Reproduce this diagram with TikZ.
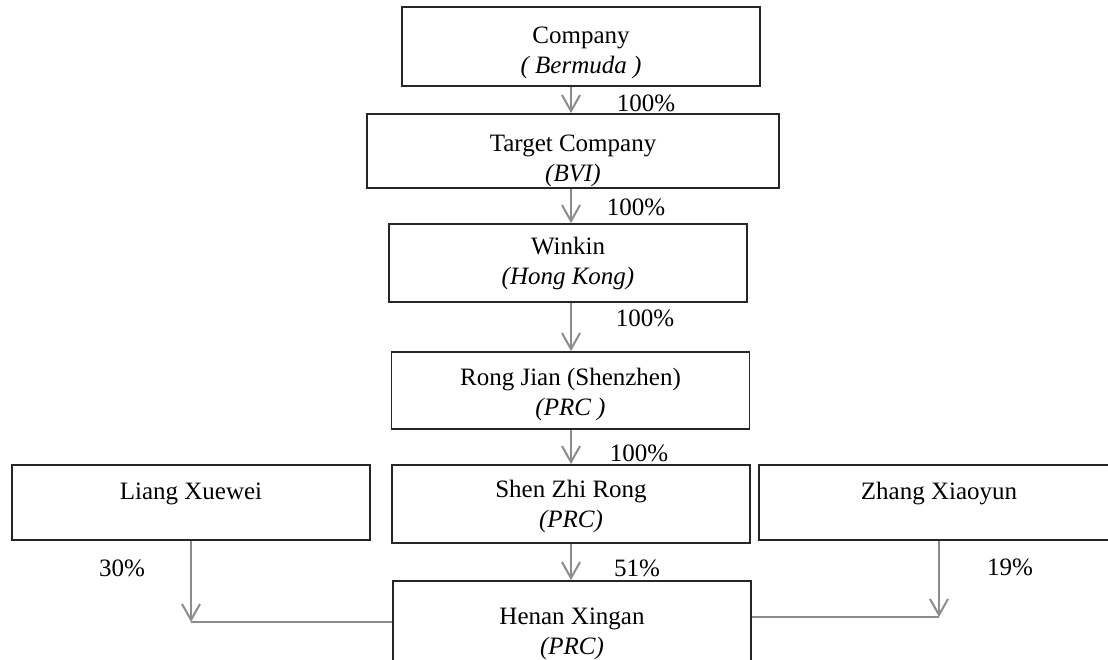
\documentclass[tikz,border=0pt]{standalone}
\usepackage{fontspec}
\setmainfont{Liberation Serif}
\usetikzlibrary{arrows.meta}
\newcommand\topgap[1]{\rule{0pt}{#1}}
\tikzset{
  box/.style={draw=black!85, line width=0.9pt, minimum width=179pt, inner sep=0pt, align=center, font=\fontsize{12.5}{15}\selectfont},
  conn/.style={draw=black!45, line width=1pt},
  arr/.style={conn, -{Straight Barb[length=8pt,width=9pt]}},
  pct/.style={inner sep=0pt, font=\fontsize{12.5}{15}\selectfont}
}
\begin{document}
\begin{tikzpicture}[x=0.5pt, y=-0.5pt]
        \useasboundingbox (0,0) rectangle (1108,659);
        \clip (0,0) rectangle (1108,659);
        % ownership chain
        \node[box, minimum height=39.5pt] (company) at (581,46.5)  {\topgap{14.3pt}Company\\\textit{( Bermuda )}};
        \node[box, minimum width=206pt, minimum height=37pt] (target) at (573,151) {\topgap{18.3pt}Target Company\\\textit{(BVI)}};
        \node[box, minimum height=39pt] (winkin)   at (568,263)   {Winkin\\\textit{(Hong Kong)}};
        \node[box, minimum height=38.5pt] (rongjian) at (570.5,390.5) {\topgap{12.7pt}Rong Jian (Shenzhen)\\\textit{(PRC )}};
        \node[box, minimum height=39pt] (shen)     at (571,504)   {\topgap{11.5pt}Shen Zhi Rong\\\textit{(PRC)}};
        \node[box, minimum height=53pt] (henan)    at (572,634)   {Henan Xingan\\\textit{(PRC)}};
        % individual holders
        \node[box, minimum height=37.5pt] (liang) at (191,502.5) {\topgap{11.5pt}Liang Xuewei\\~};
        \node[box, minimum width=180pt, minimum height=37.5pt] (zhang) at (939,502.5) {\topgap{11.5pt}Zhang Xiaoyun\\~};

        % vertical arrows down the chain
        \coordinate (spine) at (571,0);
        \draw[arr] (company.south -| spine)  -- (target.north -| spine);
        \draw[arr] (target.south -| spine)   -- (winkin.north -| spine);
        \draw[arr] (winkin.south -| spine)   -- (rongjian.north -| spine);
        \draw[arr] (rongjian.south -| spine) -- (shen.north -| spine);
        \draw[arr] (shen.south -| spine)     -- (henan.north -| spine);
        % side holders
        \coordinate (hleft)  at ([yshift=6pt]henan.west);
        \coordinate (hright) at ([yshift=8.5pt]henan.east);
        \draw[arr]  (liang.south) -- (liang.south |- hleft);
        \draw[conn] (hleft)       -- (liang.south |- hleft);
        \draw[arr]  (zhang.south) -- (zhang.south |- hright);
        \draw[conn] (hright)      -- (zhang.south |- hright);

        % percentages
        \node[pct] (pcompany)  at (646,103) {100\%};
        \node[pct] (ptarget)   at (636,207) {100\%};
        \node[pct] (pwinkin)   at (645,318) {100\%};
        \node[pct] (prongjian) at (639,453) {100\%};
        \node[pct] (pshen)     at (637,568) {51\%};
        \node[pct] (pliang)    at (122,568) {30\%};
        \node[pct] (pzhang)    at (1010,567) {19\%};
\end{tikzpicture}
\end{document}
